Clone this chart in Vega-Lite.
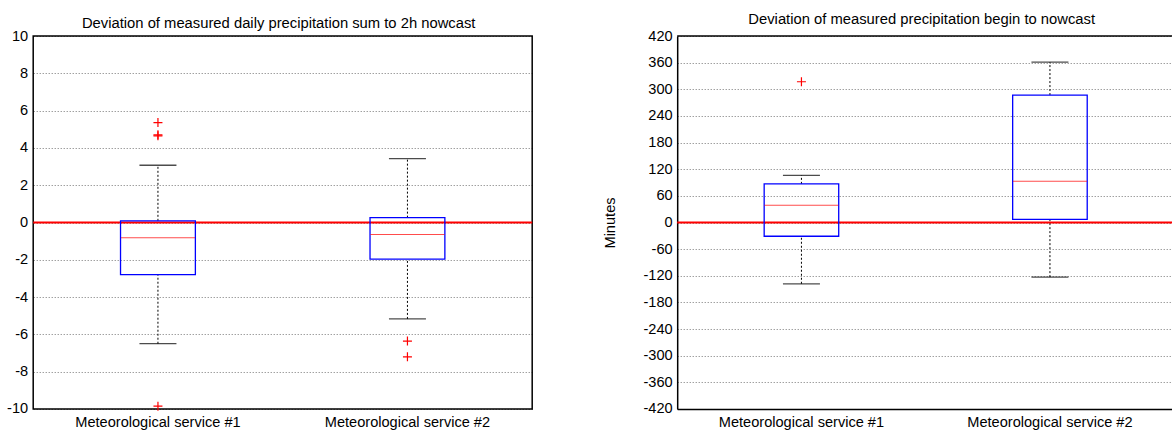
{
  "$schema": "https://vega.github.io/schema/vega-lite/v6.json",
  "background": "white",
  "padding": {"left": 5.2, "top": 12, "right": 0, "bottom": 0},
  "spacing": 68,
  "config": {
    "font": "Liberation Sans",
    "view": {"stroke": "#000", "strokeWidth": 1.5},
    "axis": {"labelFont": "Liberation Sans", "labelFontSize": 14.6, "labelColor": "#000", "labelOverlap": false, "ticks": false, "domain": false, "titleFont": "Liberation Sans", "titleFontSize": 14.6, "titleFontWeight": "normal", "titleColor": "#000"},
    "title": {"font": "Liberation Sans", "fontSize": 14.8, "fontWeight": "normal", "color": "#000", "anchor": "middle", "frame": "group", "dx": -4}
  },
  "datasets": {
    "daily": [
      {"service": "Meteorological service #1", "lower": -6.5, "q1": -2.8, "median": -0.82, "q3": 0.09, "upper": 3.07},
      {"service": "Meteorological service #2", "lower": -5.17, "q1": -1.96, "median": -0.64, "q3": 0.26, "upper": 3.42}
    ],
    "daily_out": [
      {"service": "Meteorological service #1", "value": 5.36},
      {"service": "Meteorological service #1", "value": 4.7},
      {"service": "Meteorological service #1", "value": 4.65},
      {"service": "Meteorological service #1", "value": -9.85},
      {"service": "Meteorological service #2", "value": -6.36},
      {"service": "Meteorological service #2", "value": -7.2}
    ],
    "begin": [
      {"service": "Meteorological service #1", "lower": -138, "q1": -31, "median": 39, "q3": 87, "upper": 106},
      {"service": "Meteorological service #2", "lower": -123, "q1": 7, "median": 93, "q3": 287, "upper": 361}
    ],
    "begin_out": [
      {"service": "Meteorological service #1", "value": 317}
    ],
    "zero": [{"zero": 0}],
    "top": [{"top": 420}]
  },
  "hconcat": [
    {
      "width": 499,
      "height": 373,
      "title": {"text": "Deviation of measured daily precipitation sum to 2h nowcast", "offset": -2.5},
      "layer": [
        {
          "data": {"name": "daily"},
          "mark": {"type": "rule", "color": "#000", "strokeDash": [2, 2], "strokeWidth": 1},
          "encoding": {
            "x": {"field": "service", "type": "nominal", "sort": null,
                  "scale": {"type": "band", "paddingInner": 0, "paddingOuter": 0},
                  "axis": {"title": null, "labelAngle": 0, "labelPadding": 6, "grid": false}},
            "y": {"field": "q3", "type": "quantitative",
                  "scale": {"domain": [-10, 10], "nice": false, "zero": false},
                  "axis": {"title": null, "values": [-10, -8, -6, -4, -2, 0, 2, 4, 6, 8, 10], "tickCount": 30, "labelOverlap": false, "labelExpr": "'' + datum.value", "grid": true, "gridColor": "#000", "gridDash": [1, 2], "gridOpacity": 0.55, "labelPadding": 5.5}},
            "y2": {"field": "upper"}
          }
        },
        {
          "data": {"name": "daily"},
          "mark": {"type": "rule", "color": "#000", "strokeDash": [2, 2], "strokeWidth": 1},
          "encoding": {
            "x": {"field": "service", "type": "nominal", "sort": null},
            "y": {"field": "lower", "type": "quantitative"},
            "y2": {"field": "q1"}
          }
        },
        {
          "data": {"name": "daily"},
          "mark": {"type": "tick", "color": "#000", "size": 37, "thickness": 1.3},
          "encoding": {
            "x": {"field": "service", "type": "nominal", "sort": null},
            "y": {"field": "upper", "type": "quantitative"}
          }
        },
        {
          "data": {"name": "daily"},
          "mark": {"type": "tick", "color": "#000", "size": 37, "thickness": 1.3},
          "encoding": {
            "x": {"field": "service", "type": "nominal", "sort": null},
            "y": {"field": "lower", "type": "quantitative"}
          }
        },
        {
          "data": {"name": "zero"},
          "mark": {"type": "rule", "color": "#ff0000", "strokeWidth": 2},
          "encoding": {"y": {"field": "zero", "type": "quantitative"}}
        },
        {
          "data": {"name": "daily"},
          "mark": {"type": "bar", "fill": "transparent", "stroke": "#0000ff", "strokeWidth": 1.3, "width": {"band": 0.3}},
          "encoding": {
            "x": {"field": "service", "type": "nominal", "sort": null},
            "y": {"field": "q1", "type": "quantitative"},
            "y2": {"field": "q3"}
          }
        },
        {
          "data": {"name": "daily"},
          "mark": {"type": "tick", "color": "#ff0000", "size": 74, "thickness": 1},
          "encoding": {
            "x": {"field": "service", "type": "nominal", "sort": null},
            "y": {"field": "median", "type": "quantitative"}
          }
        },
        {
          "data": {"name": "daily_out"},
          "mark": {"type": "point", "shape": "M-1,0L1,0M0,-1L0,1", "size": 81, "filled": false, "color": "#ff0000", "strokeWidth": 1.2, "opacity": 1},
          "encoding": {
            "x": {"field": "service", "type": "nominal", "sort": null},
            "y": {"field": "value", "type": "quantitative"}
          }
        }
      ]
    },
    {
      "width": 497,
      "height": 373,
      "view": {"stroke": null},
      "title": {"text": "Deviation of measured precipitation begin to nowcast", "offset": 1},
      "layer": [
        {
          "data": {"name": "begin"},
          "mark": {"type": "rule", "color": "#000", "strokeDash": [2, 2], "strokeWidth": 1},
          "encoding": {
            "x": {"field": "service", "type": "nominal", "sort": null,
                  "scale": {"type": "band", "paddingInner": 0, "paddingOuter": 0},
                  "axis": {"title": null, "labelAngle": 0, "labelPadding": 6, "grid": false, "domain": true, "domainColor": "#000", "domainWidth": 1.5}},
            "y": {"field": "q3", "type": "quantitative",
                  "scale": {"domain": [-420, 420], "nice": false, "zero": false},
                  "axis": {"title": "Minutes", "titlePadding": 25, "values": [-420, -360, -300, -240, -180, -120, -60, 0, 60, 120, 180, 240, 300, 360, 420], "tickCount": 30, "labelOverlap": false, "labelExpr": "'' + datum.value", "grid": true, "gridColor": "#000", "gridDash": [1, 2], "gridOpacity": 0.55, "labelPadding": 5, "domain": true, "domainColor": "#000", "domainWidth": 1.5}},
            "y2": {"field": "upper"}
          }
        },
        {
          "data": {"name": "begin"},
          "mark": {"type": "rule", "color": "#000", "strokeDash": [2, 2], "strokeWidth": 1},
          "encoding": {
            "x": {"field": "service", "type": "nominal", "sort": null},
            "y": {"field": "lower", "type": "quantitative"},
            "y2": {"field": "q1"}
          }
        },
        {
          "data": {"name": "begin"},
          "mark": {"type": "tick", "color": "#000", "size": 37, "thickness": 1.3},
          "encoding": {
            "x": {"field": "service", "type": "nominal", "sort": null},
            "y": {"field": "upper", "type": "quantitative"}
          }
        },
        {
          "data": {"name": "begin"},
          "mark": {"type": "tick", "color": "#000", "size": 37, "thickness": 1.3},
          "encoding": {
            "x": {"field": "service", "type": "nominal", "sort": null},
            "y": {"field": "lower", "type": "quantitative"}
          }
        },
        {
          "data": {"name": "zero"},
          "mark": {"type": "rule", "color": "#ff0000", "strokeWidth": 2},
          "encoding": {"y": {"field": "zero", "type": "quantitative"}}
        },
        {
          "data": {"name": "top"},
          "mark": {"type": "rule", "color": "#000", "strokeWidth": 1.5},
          "encoding": {"y": {"field": "top", "type": "quantitative"}}
        },
        {
          "data": {"name": "begin"},
          "mark": {"type": "bar", "fill": "transparent", "stroke": "#0000ff", "strokeWidth": 1.3, "width": {"band": 0.3}},
          "encoding": {
            "x": {"field": "service", "type": "nominal", "sort": null},
            "y": {"field": "q1", "type": "quantitative"},
            "y2": {"field": "q3"}
          }
        },
        {
          "data": {"name": "begin"},
          "mark": {"type": "tick", "color": "#ff0000", "size": 74, "thickness": 1},
          "encoding": {
            "x": {"field": "service", "type": "nominal", "sort": null},
            "y": {"field": "median", "type": "quantitative"}
          }
        },
        {
          "data": {"name": "begin_out"},
          "mark": {"type": "point", "shape": "M-1,0L1,0M0,-1L0,1", "size": 81, "filled": false, "color": "#ff0000", "strokeWidth": 1.2, "opacity": 1},
          "encoding": {
            "x": {"field": "service", "type": "nominal", "sort": null},
            "y": {"field": "value", "type": "quantitative"}
          }
        }
      ]
    }
  ]
}
